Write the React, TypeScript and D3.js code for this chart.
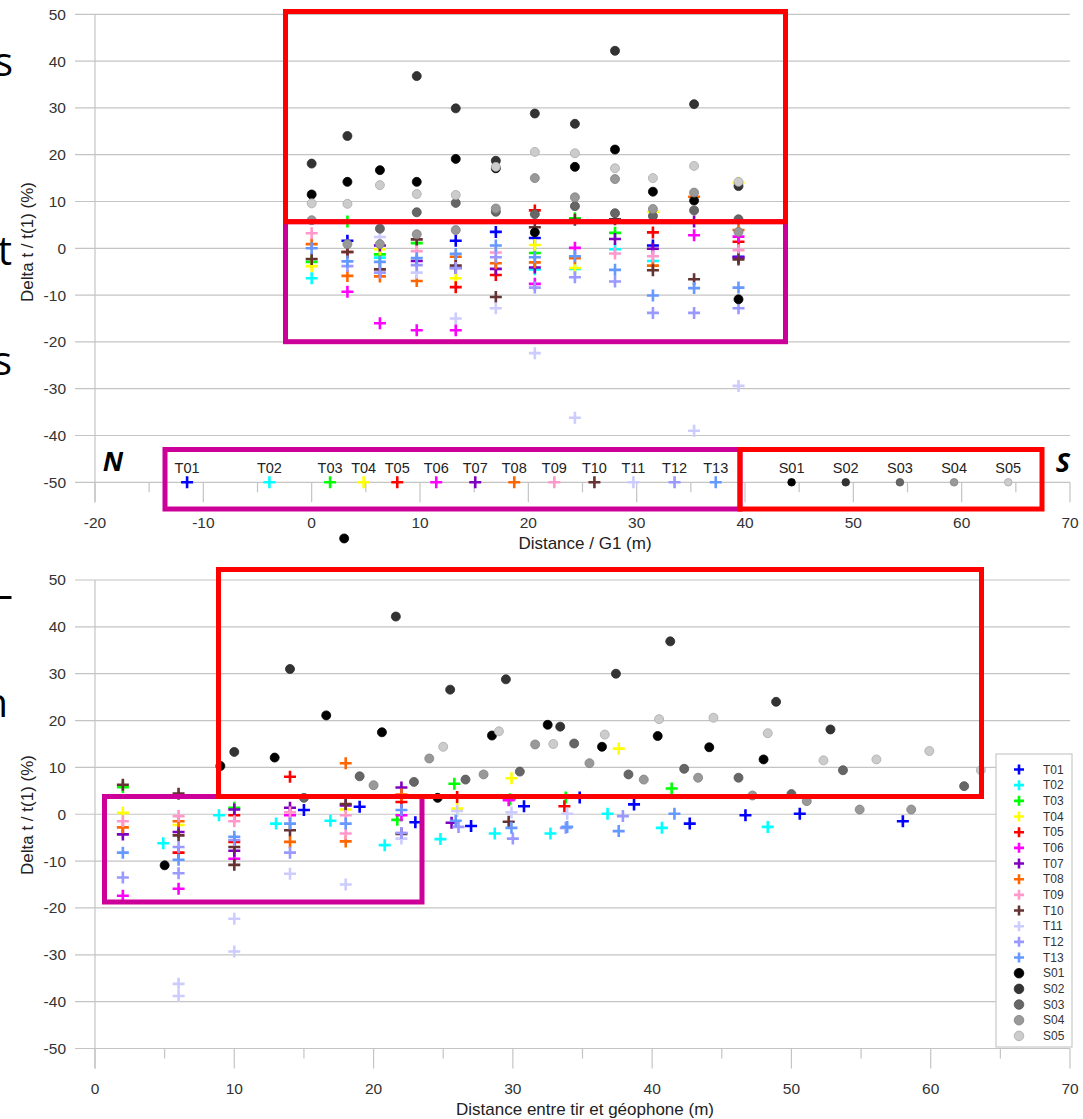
import { useEffect, useRef } from "react";
import * as d3 from "d3";

// series names, colours and shot positions along the line (m from G1)
const SERIES = ["T01", "T02", "T03", "T04", "T05", "T06", "T07", "T08", "T09", "T10", "T11", "T12", "T13", "S01", "S02", "S03", "S04", "S05"];
const COLORS = ["#0000ff", "#00ffff", "#00ff00", "#ffff00", "#ff0000", "#ff00ff", "#8000c0", "#ff6600", "#ff99cc", "#663333", "#ccccff", "#9999ff", "#6699ff", "#000000", "#333333", "#666666", "#999999", "#cccccc"];
const SOURCE_X = [-11.5, -3.9, 1.7, 4.8, 7.9, 11.5, 15.1, 18.7, 22.4, 26.1, 29.7, 33.5, 37.3, 44.3, 49.3, 54.3, 59.3, 64.3];
const SOURCE_Y = -50;

const Y_TICKS = [-50, -40, -30, -20, -10, 0, 10, 20, 30, 40, 50];
const TOP_X_TICKS = [-20, -10, 0, 10, 20, 30, 40, 50, 60, 70];
const BOT_X_TICKS = [0, 10, 20, 30, 40, 50, 60, 70];

// top panel : [distance / G1, delta t / t(1) %]
const T01_TOP = [[3.3, 1.6], [13.3, 1.6], [17.0, 3.5], [20.6, 2.2], [31.5, 0.6], [39.4, -1.8]];
const T02_TOP = [[0, -6.4], [6.3, -2.0], [20.6, -4.5], [24.3, -4.4], [28.0, -0.2], [31.5, -2.7]];
const T03_TOP = [[0, -2.9], [3.3, 5.7], [6.3, -1.3], [9.7, 1.1], [20.6, -1.0], [24.3, 6.4], [28.0, 3.3]];
const T04_TOP = [[0, -3.8], [6.3, -0.2], [13.3, -6.4], [20.6, 0.7], [24.3, -4.2], [31.5, 7.8], [39.4, 14.0]];
const T05_TOP = [[3.3, -0.8], [13.3, -8.3], [17.0, -5.7], [20.6, 8.1], [31.5, 3.4], [39.4, 1.4]];
const T06_TOP = [[3.3, -9.3], [6.3, -16.0], [9.7, -17.5], [13.3, -17.5], [20.6, -7.6], [24.3, 0.1], [35.3, 2.8], [39.4, 2.5]];
const T07_TOP = [[6.3, 0.6], [9.7, -2.7], [13.3, -4.2], [17.0, -4.4], [20.6, -4.1], [28.0, 2.0], [31.5, -0.1], [35.3, 5.7], [39.4, -2.0]];
const T08_TOP = [[0, 0.9], [3.3, -5.9], [6.3, -6.0], [9.7, -7.0], [13.3, -1.8], [17.0, -3.2], [20.6, -3.0], [24.3, -2.1], [31.5, -3.7], [35.3, 11.0], [39.4, 3.9]];
const T09_TOP = [[0, 3.2], [9.7, -0.6], [17.0, -0.9], [28.0, -1.1], [31.5, -1.7], [39.4, -0.4]];
const T10_TOP = [[0, -2.3], [3.3, -0.8], [6.3, -4.5], [9.7, 1.9], [13.3, -3.7], [17.0, -10.4], [20.6, 4.5], [24.3, 6.1], [28.0, 6.2], [31.5, -4.7], [35.3, -6.6], [39.4, -2.4]];
const T11_TOP = [[6.3, 2.4], [9.7, -5.2], [13.3, -15.0], [17.0, -12.8], [20.6, -22.4], [24.3, -36.2], [35.3, -39.0], [39.4, -29.4]];
const T12_TOP = [[3.3, -3.8], [6.3, -5.2], [9.7, -3.6], [13.3, -4.2], [17.0, -1.9], [20.6, -8.4], [24.3, -6.2], [28.0, -7.1], [31.5, -13.8], [35.3, -13.8], [39.4, -12.8]];
const T13_TOP = [[0, 0], [3.3, -2.8], [6.3, -2.9], [9.7, -2.1], [13.3, -1.2], [17.0, 0.6], [20.6, -1.9], [24.3, -1.7], [28.0, -4.6], [31.5, -10.1], [35.3, -8.5], [39.4, -8.4]];
const S01_TOP = [[0, 11.5], [3.3, 14.2], [6.3, 16.7], [9.7, 14.2], [13.3, 19.1], [17.0, 17.1], [20.6, 3.4], [24.3, 17.4], [28.0, 21.1], [31.5, 12.1], [35.3, 10.2], [39.4, -10.9], [3.0, -62]];
const S02_TOP = [[0, 18.1], [3.3, 24.0], [9.7, 36.8], [13.3, 29.9], [17.0, 18.7], [20.6, 28.8], [24.3, 26.6], [28.0, 42.2], [35.3, 30.8], [39.4, 13.3]];
const S03_TOP = [[6.3, 4.2], [9.7, 7.7], [13.3, 9.7], [17.0, 7.8], [20.6, 7.3], [24.3, 9.0], [28.0, 7.5], [31.5, 6.9], [35.3, 8.1], [39.4, 6.2]];
const S04_TOP = [[0, 6.0], [3.3, 0.9], [6.3, 0.9], [9.7, 3.0], [13.3, 3.9], [17.0, 8.5], [20.6, 15.0], [24.3, 10.9], [28.0, 14.8], [31.5, 8.4], [35.3, 11.9], [39.4, 3.5]];
const S05_TOP = [[0, 9.6], [3.3, 9.5], [6.3, 13.5], [9.7, 11.6], [13.3, 11.4], [17.0, 17.4], [20.6, 20.6], [24.3, 20.3], [28.0, 17.1], [31.5, 15.0], [35.3, 17.6], [39.4, 14.2]];

// bottom panel : [distance shot - geophone, delta t / t(1) %]
const T01_BOT = [[15.0, 0.9], [19.0, 1.6], [23.0, -1.7], [27.0, -2.5], [30.8, 1.7], [34.8, 3.6], [38.7, 2.1], [42.7, -2.0], [46.7, -0.2], [50.6, 0.1], [58.0, -1.5]];
const T02_BOT = [[4.9, -6.2], [8.9, -0.2], [13.0, -2.0], [16.9, -1.4], [20.8, -6.6], [24.8, -5.3], [28.7, -4.1], [32.7, -4.1], [36.8, 0.1], [40.7, -2.9], [48.3, -2.7]];
const T03_BOT = [[2, 5.8], [10, 1.4], [21.7, -1.2], [25.8, 6.5], [29.8, 3.2], [33.8, 3.6], [41.4, 5.5]];
const T04_BOT = [[2, 0.3], [6, -2.3], [18, 1.0], [26, 1.2], [29.9, 7.7], [37.6, 14.0]];
const T05_BOT = [[6, -8.2], [10, -0.2], [10, -5.9], [14, 8.0], [22, 2.6], [26, 3.7], [33.7, 1.7]];
const T06_BOT = [[2, -17.4], [6, -15.9], [10, -9.5], [14, -0.2], [22, -0.2], [29.7, 3.0]];
const T07_BOT = [[2, -4.3], [6, -3.8], [10, 1.0], [10, -7.8], [14, 1.4], [18, 1.9], [22, 5.7], [25.6, -1.8]];
const T08_BOT = [[2, -2.8], [6, -1.5], [14, -5.9], [18, 10.9], [18, -5.8], [22, 4.2]];
const T09_BOT = [[2, -1.5], [6, -0.4], [10, -1.5], [14, 0.4], [18, -0.2], [18, -4.1], [22, -4.0]];
const T10_BOT = [[2, 6.3], [6, 4.4], [6, -4.5], [10, -7.0], [10, -10.8], [14, -3.4], [18, 2.2], [22, -4.2], [29.7, -1.6]];
const T11_BOT = [[6, -36.2], [6, -38.8], [10, -22.3], [10, -29.3], [14, -12.7], [18, -15.0], [22, -5.2], [26, 0.7], [29.9, 0.4], [33.9, 0.1]];
const T12_BOT = [[2, -13.5], [6, -7.0], [6, -12.6], [10, -5.5], [14, -8.2], [22, -4.0], [26.1, -2.7], [30, -5.2], [33.8, -2.9], [37.9, -0.4]];
const T13_BOT = [[2, -8.2], [6, -9.7], [10, -4.8], [14, -2.0], [18, -2.0], [22, 0.9], [25.9, -1.4], [29.9, -2.9], [33.9, -2.7], [37.6, -3.6], [41.6, 0.1]];
const S01_BOT = [[5.0, -10.9], [9.0, 10.3], [12.9, 12.1], [16.6, 21.1], [20.6, 17.5], [24.6, 3.5], [28.5, 16.8], [32.5, 19.1], [36.4, 14.4], [40.4, 16.7], [44.1, 14.3], [48.0, 11.7]];
const S02_BOT = [[10, 13.3], [14, 31.0], [21.6, 42.2], [25.5, 26.6], [29.5, 28.8], [33.4, 18.7], [37.4, 30.0], [41.3, 36.9], [48.9, 24.0], [52.8, 18.1]];
const S03_BOT = [[15, 3.5], [19, 8.1], [22.9, 6.9], [26.6, 7.4], [30.5, 9.1], [34.4, 15.1], [38.3, 8.5], [42.3, 9.7], [46.2, 7.8], [50.0, 4.3], [53.7, 9.4], [62.4, 6.0]];
const S04_BOT = [[20, 6.2], [24, 11.9], [27.9, 8.5], [31.6, 14.9], [35.5, 10.9], [39.4, 7.4], [43.3, 7.8], [47.2, 4.0], [51.1, 2.8], [54.9, 1.0], [58.6, 1.0]];
const S05_BOT = [[25, 14.4], [29, 17.7], [32.9, 15.0], [36.6, 17.0], [40.5, 20.3], [44.4, 20.6], [48.3, 17.3], [52.3, 11.5], [56.1, 11.7], [59.9, 13.5], [63.6, 9.4]];

const TOP_DATA = [T01_TOP, T02_TOP, T03_TOP, T04_TOP, T05_TOP, T06_TOP, T07_TOP, T08_TOP, T09_TOP, T10_TOP, T11_TOP, T12_TOP, T13_TOP, S01_TOP, S02_TOP, S03_TOP, S04_TOP, S05_TOP];
const BOT_DATA = [T01_BOT, T02_BOT, T03_BOT, T04_BOT, T05_BOT, T06_BOT, T07_BOT, T08_BOT, T09_BOT, T10_BOT, T11_BOT, T12_BOT, T13_BOT, S01_BOT, S02_BOT, S03_BOT, S04_BOT, S05_BOT];

const FONT = "'Liberation Sans', Arial, sans-serif";
const RED = "#ff0000";
const MAGENTA = "#cc0099";

const App = () => {
  const ref = useRef(null);

  useEffect(() => {
    document.body.style.margin = "0";
    const el = ref.current;
    if (!el) return;
    const svg = d3.select(el);
    svg.selectAll("*").remove();

    svg.append("rect").attr("width", 1083).attr("height", 1119).attr("fill", "#fff");

    const isCircle = (i) => SERIES[i].startsWith("S");
    const drawMark = (g, i, px, py, arm, r) => {
      if (isCircle(i)) {
        g.append("circle")
          .attr("cx", px).attr("cy", py).attr("r", r)
          .attr("fill", COLORS[i])
          .attr("stroke", d3.color(COLORS[i]).darker(0.5).formatHex())
          .attr("stroke-width", 0.8);
      } else {
        g.append("path")
          .attr("d", `M${px - arm},${py}H${px + arm}M${px},${py - arm}V${py + arm}`)
          .attr("stroke", COLORS[i])
          .attr("stroke-width", 2.6)
          .attr("fill", "none");
      }
    };

    // ── one panel: grid, axes, points ─────────────────────────────
    const panel = (x, y, xTicks, data, xTitle, yTitleY) => {
      const g = svg.append("g");
      const [y0, y1] = y.range();
      const [xL, xR] = x.range();

      g.selectAll(".grid").data(Y_TICKS).enter().append("line")
        .attr("x1", xL - 20).attr("x2", xR)
        .attr("y1", d => y(d)).attr("y2", d => y(d))
        .attr("stroke", "#c4c4c4").attr("stroke-width", 1.2);

      g.append("line")
        .attr("x1", xL).attr("x2", xL).attr("y1", y1).attr("y2", y0 + 20)
        .attr("stroke", "#c4c4c4").attr("stroke-width", 1.2);

      const minor = d3.range(xTicks[0], xTicks[xTicks.length - 1] + 0.1, 5);
      g.selectAll(".tk").data(minor).enter().append("line")
        .attr("x1", d => x(d)).attr("x2", d => x(d))
        .attr("y1", y0).attr("y2", d => y0 + (d % 10 === 0 ? 20 : 10))
        .attr("stroke", "#c4c4c4").attr("stroke-width", 1.2);

      g.selectAll(".yl").data(Y_TICKS).enter().append("text")
        .attr("x", xL - 29).attr("y", d => y(d)).attr("dy", "0.35em")
        .attr("text-anchor", "end")
        .style("font-family", FONT).style("font-size", "15.5px").style("fill", "#333")
        .text(d => d);

      g.selectAll(".xl").data(xTicks).enter().append("text")
        .attr("x", d => x(d)).attr("y", y0 + 40).attr("dy", "0.35em")
        .attr("text-anchor", "middle")
        .style("font-family", FONT).style("font-size", "15.5px").style("fill", "#333")
        .text(d => d);

      g.append("text")
        .attr("x", 585).attr("y", y0 + 61).attr("dy", "0.35em")
        .attr("text-anchor", "middle")
        .style("font-family", FONT).style("font-size", "17px").style("fill", "#222")
        .text(xTitle);

      g.append("text")
        .attr("transform", `translate(27,${yTitleY}) rotate(-90)`)
        .attr("dy", "0.35em")
        .attr("text-anchor", "middle")
        .style("font-family", FONT).style("font-size", "17px").style("fill", "#222")
        .text("Delta t / t(1) (%)");

      const pts = svg.append("g");
      data.forEach((arr, i) => {
        arr.forEach(([vx, vy]) => drawMark(pts, i, x(vx), y(vy), 6, 4.5));
      });
      return g;
    };

    // ── top panel ────────────────────────────────────────────────
    const xTop = d3.scaleLinear().domain([-20, 70]).range([95, 1070]);
    const yTop = d3.scaleLinear().domain([-50, 50]).range([482.3, 14.3]);
    panel(xTop, yTop, TOP_X_TICKS, TOP_DATA, "Distance / G1 (m)", 242);

    // shot positions along the line
    const src = svg.append("g");
    SERIES.forEach((s, i) => {
      drawMark(src, i, xTop(SOURCE_X[i]), yTop(SOURCE_Y), 6, 3.8);
      src.append("text")
        .attr("x", xTop(SOURCE_X[i])).attr("y", yTop(SOURCE_Y) - 14)
        .attr("dy", "0.35em")
        .attr("text-anchor", "middle")
        .style("font-family", FONT).style("font-size", "14.5px").style("fill", "#222")
        .text(s);
    });

    // ── bottom panel ─────────────────────────────────────────────
    const xBot = d3.scaleLinear().domain([0, 70]).range([95, 1070]);
    const yBot = d3.scaleLinear().domain([-50, 50]).range([1048.5, 580]);
    panel(xBot, yBot, BOT_X_TICKS, BOT_DATA, "Distance entre tir et géophone (m)", 815);

    // legend
    const lg = svg.append("g");
    lg.append("rect")
      .attr("x", 996).attr("y", 754).attr("width", 76).attr("height", 293)
      .attr("fill", "#fff").attr("stroke", "#c8c8c8").attr("stroke-width", 1.2);
    SERIES.forEach((s, i) => {
      const ly = 769.5 + i * 15.67;
      drawMark(lg, i, 1019, ly, 5, 4.8);
      lg.append("text")
        .attr("x", 1043).attr("y", ly).attr("dy", "0.35em")
        .style("font-family", FONT).style("font-size", "12px").style("fill", "#333")
        .text(s);
    });

    // ── annotation boxes ─────────────────────────────────────────
    const box = (x0, y0, x1, y1, c) =>
      svg.append("rect")
        .attr("x", x0).attr("y", y0).attr("width", x1 - x0).attr("height", y1 - y0)
        .attr("fill", "none").attr("stroke", c).attr("stroke-width", 5);

    box(285.5, 221.7, 785.5, 341.7, MAGENTA);
    box(165, 449.5, 740, 509, MAGENTA);
    box(104.5, 796.5, 422, 902, MAGENTA);
    box(285.5, 11.5, 785.5, 221.7, RED);
    box(740, 449.5, 1042, 509, RED);
    box(218.5, 569.5, 981.5, 796.5, RED);

    // N / S orientation
    [["N", 113, 462], ["S", 1063, 463]].forEach(([t, x, y]) => {
      svg.append("text")
        .attr("x", x).attr("y", y).attr("dy", "0.35em")
        .attr("text-anchor", "middle")
        .style("font-family", "'Open Sans', 'Liberation Sans', sans-serif")
        .style("font-size", "27px").style("font-weight", "700").style("font-style", "italic")
        .style("fill", "#000")
        .text(t);
    });

    // slide text cut by the left edge
    [["s", 13, 76], ["t", 12, 265], ["s", 12, 375], ["–", 13, 608], ["n", 8, 717]].forEach(([t, x, y]) => {
      svg.append("text")
        .attr("x", x).attr("y", y)
        .attr("text-anchor", "end")
        .style("font-family", "'Open Sans', sans-serif")
        .style("font-size", "40px")
        .style("fill", "#000")
        .text(t);
    });

    return () => { svg.selectAll("*").remove(); };
  }, []);

  return <svg ref={ref} width={1083} height={1119} style={{ display: "block" }} />;
};

export default App;
